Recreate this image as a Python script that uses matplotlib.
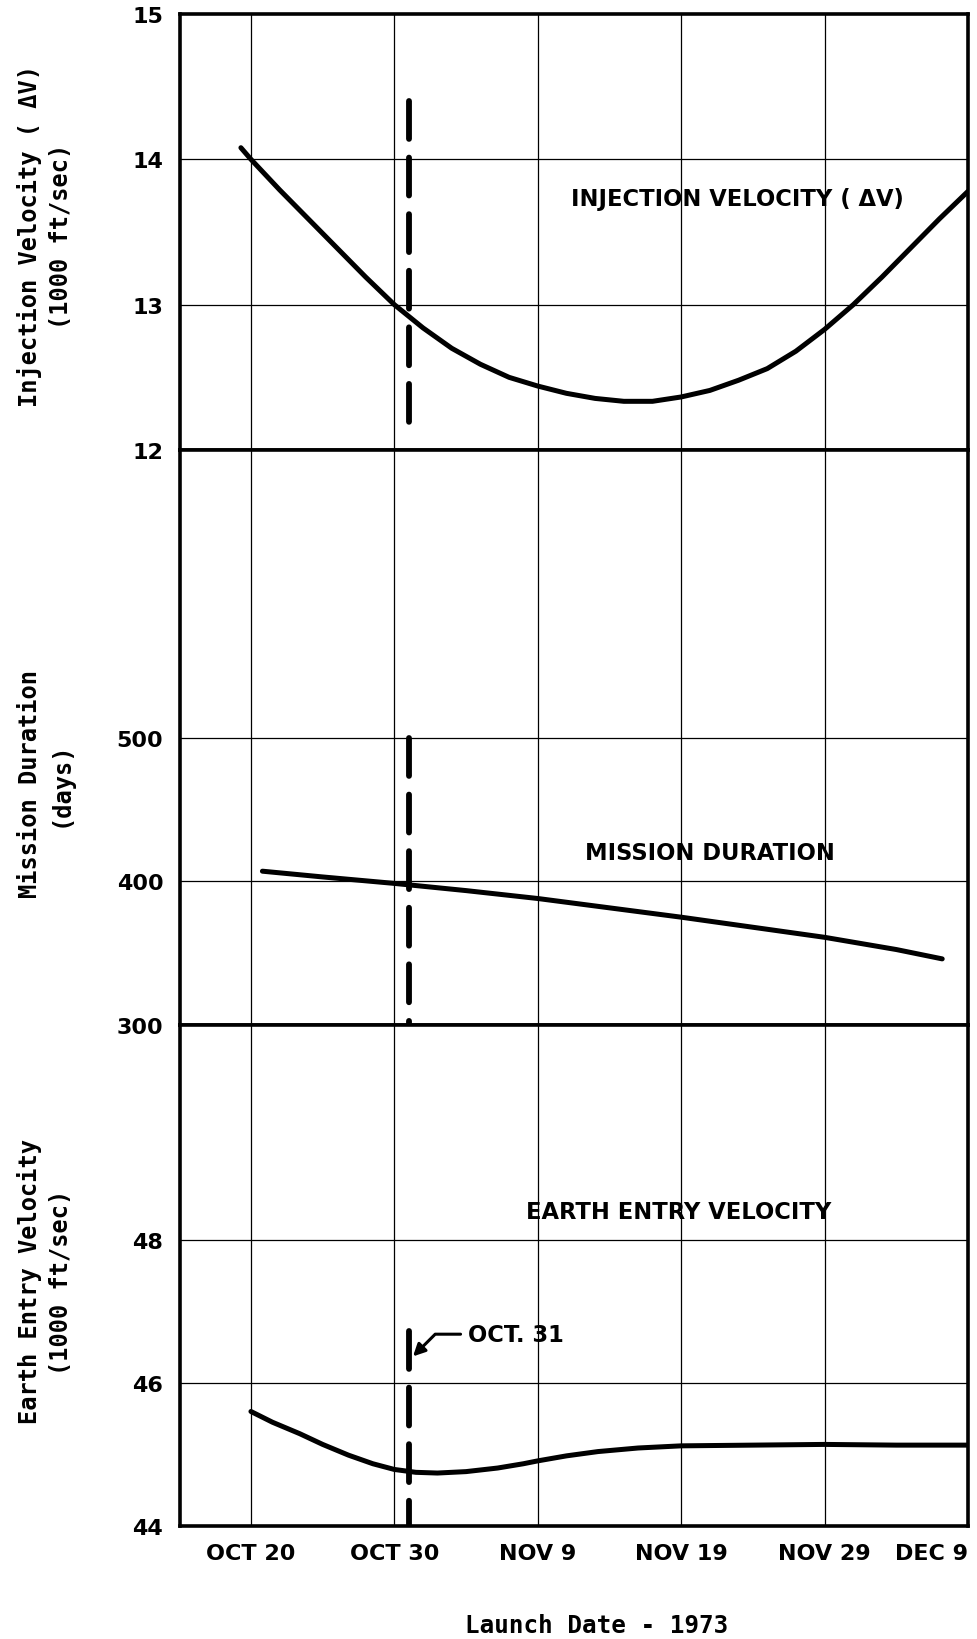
"""
Launch window chart, 1973: injection velocity, mission duration
and earth entry velocity against launch date.
"""
import matplotlib
matplotlib.use('Agg')
import matplotlib.pyplot as plt

# x axis: days after OCT 20, 1973
date_ticks = [0, 10, 20, 30, 40, 50]
date_labels = ['OCT 20', 'OCT 30', 'NOV 9', 'NOV 19', 'NOV 29', 'DEC 9']

# Injection velocity (1000 ft/sec)
inj_days = [-0.7, 0, 2, 4, 6, 8, 10, 12, 14, 16, 18, 20, 22, 24, 26, 28,
            30, 32, 34, 36, 38, 40, 42, 44, 46, 48, 50]
inj_vel = [14.08, 14.0, 13.79, 13.59, 13.39, 13.19, 13.0, 12.84, 12.70, 12.59,
           12.50, 12.44, 12.39, 12.355, 12.335, 12.335, 12.365, 12.41, 12.48,
           12.56, 12.68, 12.83, 13.0, 13.19, 13.39, 13.59, 13.78]

# Mission duration (days)
dur_days = [0.8, 5, 10, 15, 20, 25, 30, 35, 40, 45, 48.2]
dur_vals = [407, 403, 398.5, 393.5, 388, 381.5, 375, 368, 361, 352.5, 346]

# Earth entry velocity (1000 ft/sec)
entry_days = [0, 1.5, 3.4, 5, 6.8, 8.5, 10, 11.5, 13, 15, 17.2, 19, 20, 22,
              24.2, 27, 30, 35, 40, 45, 50]
entry_vel = [45.60, 45.45, 45.29, 45.14, 44.99, 44.87, 44.79, 44.75, 44.74,
             44.76, 44.81, 44.87, 44.91, 44.98, 45.04, 45.09, 45.12, 45.13,
             45.14, 45.13, 45.13]

oct31 = 11  # OCT. 31 marker

BOLD = dict(family='DejaVu Sans', fontweight='bold')
MONO = 'DejaVu Sans Mono'
CURVE = dict(color='black', lw=3.6, solid_capstyle='round',
             solid_joinstyle='round', zorder=3)
DASH = dict(color='black', lw=4.2, dashes=[6.5, 3.2], dash_capstyle='round',
            zorder=3)

fig, (ax1, ax2, ax3) = plt.subplots(
    3, 1, figsize=(9.78, 16.4), dpi=100, sharex=True,
    gridspec_kw=dict(height_ratios=[436, 575, 501], hspace=0))
fig.subplots_adjust(left=0.184, right=0.9898, top=0.99085, bottom=0.0689)

for ax in (ax1, ax2, ax3):
    ax.set_xlim(-4.95, 50)
    for s in ax.spines.values():
        s.set_linewidth(2.6)
    ax.tick_params(length=0, pad=12, labelsize=16)
    for d in date_ticks[:-1]:
        ax.axvline(d, color='black', lw=0.9, zorder=1)

# ---- injection velocity
ax1.set_ylim(12, 15)
ax1.set_yticks([12, 13, 14, 15])
for lab in ax1.get_yticklabels():
    lab.set_fontweight('bold')
for v in [13, 14]:
    ax1.axhline(v, color='black', lw=0.9, zorder=1)
ax1.plot(inj_days, inj_vel, **CURVE)
ax1.plot([oct31, oct31], [14.40, 12.07], **DASH)
ax1.text(33.9, 13.73, 'INJECTION VELOCITY ( ΔV)', ha='center', va='center',
         fontsize=16.3, **BOLD)

# ---- mission duration
ax2.set_ylim(300, 700)
ax2.set_yticks([300, 400, 500])
for lab in ax2.get_yticklabels():
    lab.set_fontweight('bold')
for v in [400, 500]:
    ax2.axhline(v, color='black', lw=0.9, zorder=1)
ax2.plot(dur_days, dur_vals, **CURVE)
ax2.plot([oct31, oct31], [500, 220], clip_on=False, **DASH)
ax2.text(32, 420, 'MISSION DURATION', ha='center', va='center',
         fontsize=16.3, **BOLD)

# ---- earth entry velocity
ax3.set_ylim(44, 51)
ax3.set_yticks([44, 46, 48])
for lab in ax3.get_yticklabels():
    lab.set_fontweight('bold')
for v in [46, 48]:
    ax3.axhline(v, color='black', lw=0.9, zorder=1)
ax3.plot(entry_days, entry_vel, **CURVE)
ax3.plot([oct31, oct31], [46.72, 44.0], **DASH)
ax3.text(29.8, 48.39, 'EARTH ENTRY VELOCITY', ha='center', va='center',
         fontsize=16.3, **BOLD)
ax3.annotate('OCT. 31', xy=(11.3, 46.37), xytext=(15.1, 46.68),
             ha='left', va='center', fontsize=16.3, **BOLD,
             arrowprops=dict(arrowstyle='-|>', color='black', lw=2.2,
                             mutation_scale=18,
                             connectionstyle='angle,angleA=0,angleB=45,rad=0',
                             shrinkA=3, shrinkB=0))

ax3.set_xticks(date_ticks)
ax3.set_xticklabels(date_labels, fontsize=16, fontweight='bold')
ax3.get_xticklabels()[-1].set_horizontalalignment('right')
ax3.tick_params(axis='x', pad=12)
ax3.set_xlabel('Launch Date - 1973', fontsize=17.5, family=MONO,
               fontweight='bold', va='center')
ax3.xaxis.set_label_coords(0.529, -0.198)

# y axis titles
ylab = dict(rotation=90, ha='center', va='center', fontsize=17, family=MONO,
            fontweight='bold', linespacing=1.35, multialignment='center')
fig.text(45 / 978, 1 - 236 / 1640, 'Injection Velocity ( ΔV)\n(1000 ft/sec)', **ylab)
fig.text(45 / 978, 1 - 784 / 1640, 'Mission Duration\n(days)', **ylab)
fig.text(45 / 978, 1 - 1282 / 1640, 'Earth Entry Velocity\n(1000 ft/sec)', **ylab)

fig.savefig('out.png', dpi=100)
